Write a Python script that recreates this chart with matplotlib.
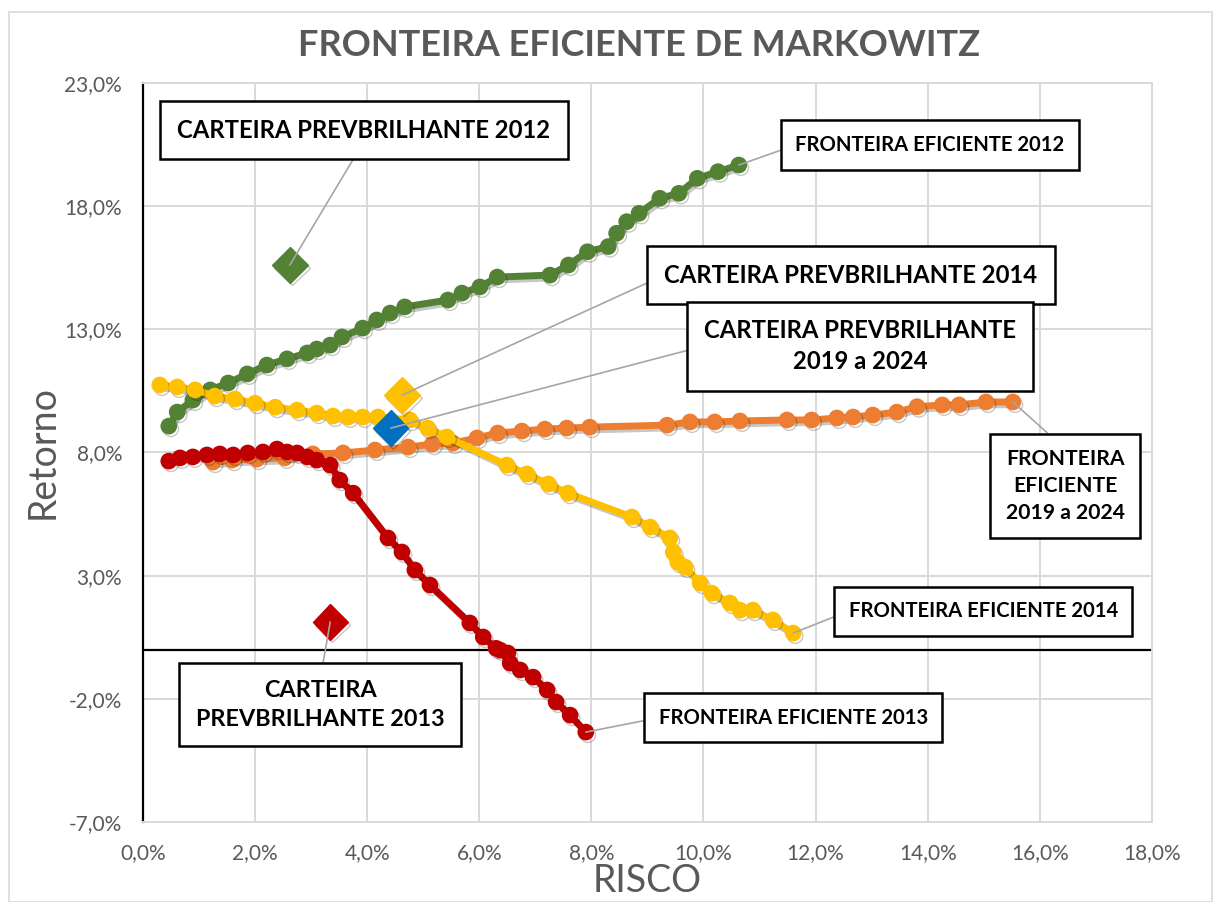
import matplotlib
matplotlib.use('Agg')
import numpy as np
import matplotlib.pyplot as plt
import matplotlib.patheffects as pe
from matplotlib.ticker import FuncFormatter, FixedLocator, MultipleLocator
from matplotlib.patches import Rectangle

plt.rcParams['font.family'] = ['Lato', 'DejaVu Sans']

# Fronteiras eficientes (risco %, retorno %)
green_x = [0.46, 0.61, 0.89, 1.20, 1.52, 1.86, 2.21, 2.57, 2.93, 3.10, 3.34, 3.55, 3.92, 4.17, 4.41, 4.67,
           5.44, 5.69, 6.01, 6.32, 7.26, 7.59, 7.93, 8.30, 8.45, 8.63, 8.85, 9.22, 9.56, 9.89, 10.26, 10.63]
green_y = [9.07, 9.64, 10.13, 10.54, 10.82, 11.19, 11.55, 11.80, 12.04, 12.20, 12.36, 12.69, 13.05, 13.38, 13.66, 13.91,
           14.19, 14.47, 14.72, 15.12, 15.20, 15.61, 16.15, 16.36, 16.90, 17.37, 17.71, 18.32, 18.52, 19.13, 19.40, 19.67]

orange_x = [1.25, 1.59, 2.03, 2.53, 3.03, 3.57, 4.14, 4.73, 5.16, 5.53, 5.96, 6.33, 6.76, 7.17, 7.56, 7.97,
            9.35, 9.76, 10.20, 10.65, 11.49, 11.93, 12.38, 12.67, 13.02, 13.45, 13.81, 14.26, 14.56, 15.04, 15.52]
orange_y = [7.61, 7.69, 7.73, 7.78, 7.94, 7.98, 8.10, 8.22, 8.34, 8.38, 8.59, 8.79, 8.87, 8.95, 8.99, 9.03,
            9.11, 9.24, 9.24, 9.28, 9.32, 9.32, 9.40, 9.44, 9.52, 9.64, 9.86, 9.93, 9.93, 10.05, 10.05]

yellow_x = [0.30, 0.61, 0.93, 1.28, 1.64, 2.00, 2.36, 2.75, 3.10, 3.39, 3.66, 3.92, 4.19, 4.76, 5.08, 5.42,
            6.49, 6.85, 7.23, 7.58, 8.72, 9.05, 9.40, 9.46, 9.54, 9.67, 9.94, 10.15, 10.47, 10.65, 10.88, 11.24, 11.60]
yellow_y = [10.74, 10.66, 10.54, 10.29, 10.17, 10.00, 9.84, 9.72, 9.60, 9.48, 9.44, 9.44, 9.44, 9.32, 8.99, 8.63,
            7.49, 7.13, 6.72, 6.35, 5.38, 4.97, 4.53, 3.96, 3.55, 3.35, 2.70, 2.29, 1.89, 1.60, 1.60, 1.20, 0.67]

red_x = [0.46, 0.66, 0.89, 1.14, 1.37, 1.61, 1.87, 2.14, 2.39, 2.57, 2.75, 2.93, 3.10, 3.34, 3.51, 3.75,
         4.37, 4.62, 4.85, 5.12, 5.83, 6.07, 6.30, 6.37, 6.51, 6.55, 6.73, 6.96, 7.21, 7.37, 7.62, 7.90]
red_y = [7.65, 7.78, 7.82, 7.90, 7.94, 7.90, 7.98, 8.02, 8.14, 8.02, 7.98, 7.82, 7.69, 7.49, 6.88, 6.35,
         4.53, 3.96, 3.23, 2.62, 1.08, 0.51, 0.05, -0.02, -0.14, -0.55, -0.83, -1.12, -1.64, -2.13, -2.66, -3.35]

# Carteiras PrevBrilhante: 2012, 2013, 2014, 2019 a 2024
cart_x = [2.62, 3.34, 4.62, 4.42]
cart_y = [15.61, 1.12, 10.33, 8.99]

y_ticks = [-7, -2, 3, 8, 13, 18, 23]

GREEN, ORANGE, YELLOW, RED, BLUE = '#548235', '#ED7D31', '#FFC000', '#C00000', '#0070C0'
GRAY = '#595959'

fig = plt.figure(figsize=(12.17, 9.02), dpi=100)
ax = fig.add_axes([0.1175, 0.0887, 0.829, 0.8193])

shadow = [pe.SimpleLineShadow(offset=(1.5, -2), shadow_color='black', alpha=0.22), pe.Normal()]

for xs, ys, c, z in [(orange_x, orange_y, ORANGE, 3), (green_x, green_y, GREEN, 4),
                     (yellow_x, yellow_y, YELLOW, 5), (red_x, red_y, RED, 6)]:
    ax.plot(xs, ys, color=c, lw=5, marker='o', ms=11, zorder=z, path_effects=shadow)

for x, y, c in zip(cart_x, cart_y, [GREEN, RED, YELLOW, BLUE]):
    ax.plot(x, y, marker='D', ms=18, color=c, mec=c, ls='none', zorder=8, path_effects=shadow)

# eixo zero
ax.axhline(0, color='black', lw=1.6, zorder=2)

ax.set_xlim(0, 18)
ax.set_ylim(-7, 23)
ax.xaxis.set_major_locator(MultipleLocator(2))
ax.yaxis.set_major_locator(FixedLocator(y_ticks))
fmt = FuncFormatter(lambda v, p: f'{v:.1f}%'.replace('.', ','))
ax.xaxis.set_major_formatter(fmt)
ax.yaxis.set_major_formatter(fmt)
ax.tick_params(length=0, labelsize=15, labelcolor=GRAY, pad=15)
ax.grid(True, color='#d9d9d9', lw=1.4, zorder=0)
ax.set_axisbelow(True)
for s in ['top', 'right', 'bottom']:
    ax.spines[s].set_color('#d9d9d9')
    ax.spines[s].set_linewidth(1.4)
ax.spines['left'].set_color('black')
ax.spines['left'].set_linewidth(1.6)

ax.set_xlabel('RISCO', fontsize=27, color=GRAY)
ax.xaxis.set_label_coords(0.5, -0.055)
ax.set_ylabel('Retorno', fontsize=27, color=GRAY)
ax.yaxis.set_label_coords(-0.082, 0.5)

fig.text(0.525, 0.95, 'FRONTEIRA EFICIENTE DE MARKOWITZ', fontsize=26, fontweight='bold',
         color=GRAY, ha='center', va='center')

# rótulos com linhas de chamada
box = dict(boxstyle='square,pad=0.72', fc='white', ec='black', lw=1.8)
leader = dict(arrowstyle='-', color='#a6a6a6', lw=1.2, shrinkA=0, shrinkB=0)
labels = [
    ('CARTEIRA PREVBRILHANTE 2012', (cart_x[0], cart_y[0]), (3.94, 21.09), 17.2, (0.5, 0)),
    ('FRONTEIRA EFICIENTE 2012', (green_x[-1], green_y[-1]), (14.04, 20.48), 14.6, (0, 0.5)),
    ('CARTEIRA PREVBRILHANTE 2014', (cart_x[2], cart_y[2]), (12.63, 15.2), 17.2, (0, 0.5)),
    ('CARTEIRA PREVBRILHANTE\n2019 a 2024', (cart_x[3], cart_y[3]), (12.79, 12.32), 17.2, (0, 0.5)),
    ('FRONTEIRA\nEFICIENTE\n2019 a 2024', (orange_x[-1], orange_y[-1]), (16.45, 6.64), 15.2, (0.5, 1)),
    ('FRONTEIRA EFICIENTE 2014', (yellow_x[-1], yellow_y[-1]), (14.99, 1.56), 14.6, (0, 0.5)),
    ('CARTEIRA\nPREVBRILHANTE 2013', (cart_x[1], cart_y[1]), (3.16, -2.24), 16.8, (0.5, 1)),
    ('FRONTEIRA EFICIENTE 2013', (red_x[-1], red_y[-1]), (11.6, -2.77), 14.6, (0, 0.5)),
]
for txt, xy, xyt, fs, rp in labels:
    ax.annotate(txt, xy=xy, xytext=xyt, fontsize=fs, fontweight='bold', ha='center', va='center',
                multialignment='center', linespacing=1.45, bbox=box,
                arrowprops=dict(leader, relpos=rp), zorder=10)

fig.patches.append(Rectangle((0.007, 0.0), 0.989, 0.987, transform=fig.transFigure,
                             fill=False, ec='#d9d9d9', lw=1.2))

fig.savefig('out.png', dpi=100, facecolor='white')
